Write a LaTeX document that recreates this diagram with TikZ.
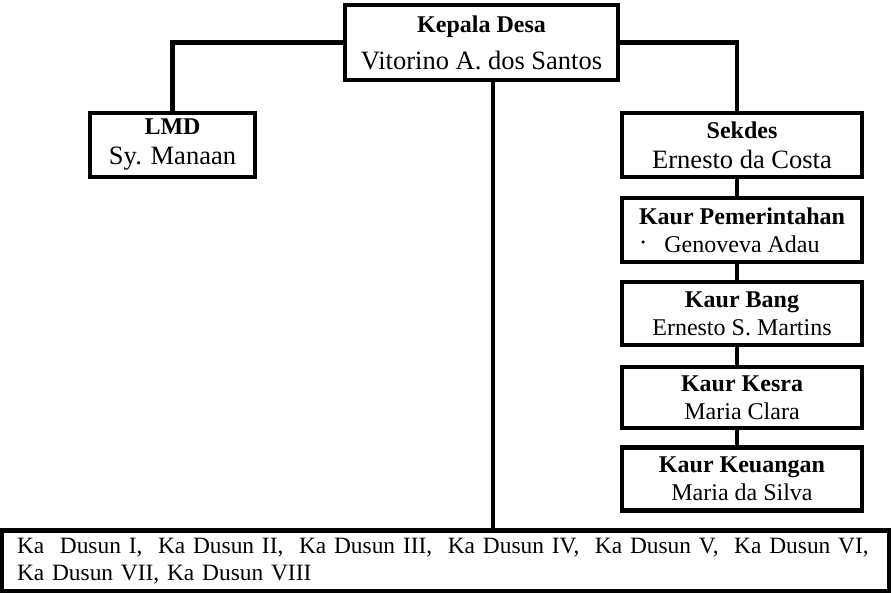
\documentclass[tikz,border=0pt]{standalone}
\usepackage{fontspec}
\setmainfont{Liberation Serif}
\newcommand{\bigreg}{\fontsize{26.5}{30}\selectfont}
\begin{document}
\begin{tikzpicture}[x=1pt,y=-1pt,
  box/.style={draw, line width=4.5pt, inner sep=0pt, align=center,
    font=\fontsize{24}{28}\selectfont},
  conn/.style={line width=4.5pt}]
\useasboundingbox (0,0) rectangle (893,593);
% boxes
\node[box, minimum width=273pt, minimum height=75pt,
  font=\fontsize{24}{37}\selectfont] (top) at (481.5,42.5)
  {\textbf{Kepala Desa}\\\fontsize{26.5}{37}\selectfont Vitorino A. dos Santos};
\node[box, minimum width=165pt, minimum height=64pt,
  font=\fontsize{24}{30}\selectfont] (lmd) at (172.5,145)
  {\textbf{LMD}\\\bigreg Sy. Manaan};
\node[box, minimum width=240pt, minimum height=64pt,
  font=\fontsize{24}{30}\selectfont] (sek) at (742,145)
  {\textbf{Sekdes}\\\bigreg Ernesto da Costa};
\node[box, minimum width=240pt, minimum height=64pt] (pem) at (742,230)
  {\textbf{Kaur Pemerintahan}\\Genoveva Adau};
\node[box, minimum width=240pt, minimum height=63pt] (bang) at (742,313.5)
  {\textbf{Kaur Bang}\\Ernesto S. Martins};
\node[box, minimum width=240pt, minimum height=61pt] (kes) at (742,397.5)
  {\textbf{Kaur Kesra}\\Maria Clara};
\node[box, minimum width=240pt, minimum height=63pt] (keu) at (742,479)
  {\textbf{Kaur Keuangan}\\Maria da Silva};
\node[box, minimum height=61pt, align=left, text width=857pt, inner xsep=15pt,
  font=\fontsize{23.4}{27}\selectfont] (dus) at (445.5,561)
  {\makebox[852pt][s]{Ka\ \ Dusun I,\ \ Ka Dusun II,\ \ Ka Dusun III,\ \ Ka Dusun IV,\ \ Ka Dusun V,\ \ Ka Dusun VI,}\\Ka Dusun VII, Ka Dusun VIII};
\node[circle, fill, inner sep=0pt, minimum size=3.5pt] (dot) at (643,242) {};
% connectors
\coordinate (vx) at (493,0);
\coordinate (sx) at (737,0);
\draw[conn] (top.west) -| (lmd.north);
\draw[conn] (top.east) -| (sek.north -| sx);
\draw[conn] (top.south -| vx) -- (dus.north -| vx);
\draw[conn] (sek.south -| sx) -- (pem.north -| sx);
\draw[conn] (pem.south -| sx) -- (bang.north -| sx);
\draw[conn] (bang.south -| sx) -- (kes.north -| sx);
\draw[conn] (kes.south -| sx) -- (keu.north -| sx);
\end{tikzpicture}
\end{document}
